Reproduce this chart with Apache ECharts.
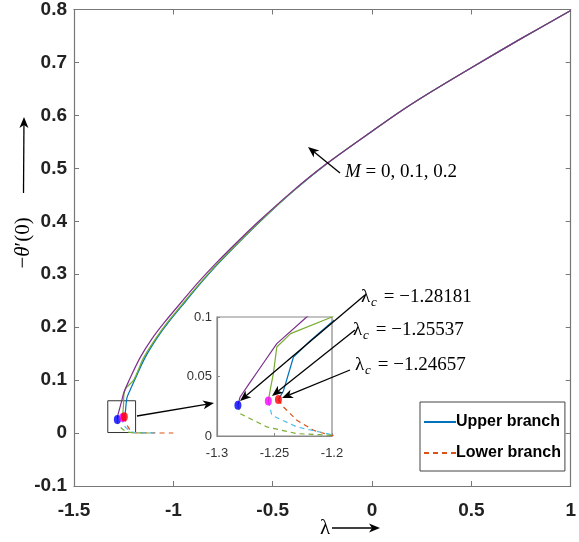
<!DOCTYPE html>
<html>
<head>
<meta charset="utf-8">
<script src="https://cdn.jsdelivr.net/npm/echarts@6/dist/echarts.min.js"></script>
<style>
  html, body { margin: 0; padding: 0; background: #fff; }
  #chart { width: 579px; height: 542px; }
</style>
</head>
<body>
<div id="chart"></div>
<script>
// upper branch, M = 0 (blue)
const lamUpM0 = [-1.24657, -1.2422, -1.2335, -1.2189, -1.2, -1.143, -1.085, -1.025, -0.940, -0.860, -0.779, -0.697, -0.562, -0.396, -0.229, 0, 0.137, 0.3, 0.5, 0.75, 1]
const thUpM0 = [0.0306, 0.038, 0.0664, 0.080, 0.0958, 0.142, 0.178, 0.209, 0.248, 0.284, 0.318, 0.350, 0.400, 0.457, 0.508, 0.570, 0.606, 0.645, 0.690, 0.745, 0.798]
// upper branch, M = 0.1 (green)
const lamUpM1 = [-1.25537, -1.2535, -1.251, -1.248, -1.236, -1.2, -1.150, -1.090, -1.030, -0.945, -0.864, -0.783, -0.700, -0.564, -0.397, -0.230, 0, 0.137, 0.3, 0.5, 0.75, 1]
const thUpM1 = [0.0294, 0.040, 0.0524, 0.0748, 0.086, 0.100, 0.142, 0.178, 0.209, 0.248, 0.284, 0.318, 0.350, 0.400, 0.457, 0.508, 0.570, 0.606, 0.645, 0.690, 0.745, 0.798]
// upper branch, M = 0.2 (purple)
const lamUpM2 = [-1.28181, -1.2799, -1.272, -1.262, -1.248, -1.222, -1.168, -1.108, -1.045, -0.958, -0.876, -0.792, -0.708, -0.570, -0.40, -0.231, 0, 0.137, 0.3, 0.5, 0.75, 1]
const thUpM2 = [0.0258, 0.0328, 0.044, 0.058, 0.0776, 0.100, 0.142, 0.178, 0.209, 0.248, 0.284, 0.318, 0.350, 0.400, 0.457, 0.508, 0.570, 0.606, 0.645, 0.690, 0.745, 0.798]
// lower branches
const lamLoM0 = [-1.24657, -1.2422, -1.2305, -1.216, -1.2015, -1.1, -1.0]
const thLoM0 = [0.0306, 0.0244, 0.0132, 0.0048, 0.0006, 0.0002, 0.0001]
const lamLoM1 = [-1.25537, -1.2523, -1.2305, -1.2015, -1.15, -1.09]
const thLoM1 = [0.0294, 0.0174, 0.0076, 0.0014, 0.0004, 0.0001]
const lamLoM2 = [-1.28181, -1.280, -1.2567, -1.2305, -1.2, -1.15, -1.12]
const thLoM2 = [0.0258, 0.0188, 0.0076, 0.002, 0.0006, 0.0002, 0.0001]
// critical points
const lamCrit = [-1.28181, -1.25537, -1.24657]
const thCrit = [0.0258, 0.0294, 0.0306]
const critColors = ['#0000ff', '#ff00ff', '#ff0000']
const critLabels = ['−1.28181', '−1.25537', '−1.24657']

const tickFont = 'Liberation Sans, Arial, sans-serif'
const serif = 'Liberation Serif, DejaVu Serif, serif'

const zip = (a, b) => a.map((v, i) => [v, b[i]])

const chart = echarts.init(document.getElementById('chart'))

function arrow (x1, y1, x2, y2) {
  const a = Math.atan2(y2 - y1, x2 - x1)
  const L = 11
  const W = 4.5
  const bx = x2 - L * Math.cos(a)
  const by = y2 - L * Math.sin(a)
  const px = -Math.sin(a) * W
  const py = Math.cos(a) * W
  const nx = bx + 3 * Math.cos(a)
  const ny = by + 3 * Math.sin(a)
  return [
    { type: 'line', z: 50, shape: { x1: x1, y1: y1, x2: nx, y2: ny }, style: { stroke: '#000', lineWidth: 1.3 } },
    { type: 'polygon', z: 50, shape: { points: [[x2, y2], [bx + px, by + py], [nx, ny], [bx - px, by - py]] }, style: { fill: '#000' } }
  ]
}

function critText (x, y, val) {
  return [
    { type: 'text', z: 50, x: x, y: y, style: { text: 'λ', font: '19px ' + serif, fill: '#000', verticalAlign: 'middle' } },
    { type: 'text', z: 50, x: x + 10, y: y + 6, style: { text: 'c', font: 'italic 13px ' + serif, fill: '#000', verticalAlign: 'middle' } },
    { type: 'text', z: 50, x: x + 18, y: y, style: { text: ' = ' + val, font: '19px ' + serif, fill: '#000', verticalAlign: 'middle' } }
  ]
}

const axisLine = { show: true, onZero: false, lineStyle: { color: '#777', width: 1.2 } }
const insetLine = { show: true, onZero: false, lineStyle: { color: '#888', width: 1.2 } }

function lineSeries (name, lam, th, color, dashed, idx) {
  return {
    name: name,
    type: 'line',
    xAxisIndex: idx,
    yAxisIndex: idx,
    data: zip(lam, th),
    showSymbol: false,
    symbol: 'none',
    smooth: idx === 0 ? 0.3 : false,
    lineStyle: { color: color, width: 1.2, type: dashed ? [5, 4] : 'solid' },
    itemStyle: { color: color },
    z: idx === 0 ? 3 : 13
  }
}

const series = []
;[0, 1].forEach(g => {
  const s = g === 0 ? '' : ' inset'
  series.push(lineSeries('Upper branch' + s, lamUpM0, thUpM0, '#0072BD', false, g))
  series.push(lineSeries('Lower branch' + s, lamLoM0, thLoM0, '#D95319', true, g))
  series.push(lineSeries('up M0.1' + s, lamUpM1, thUpM1, '#77AC30', false, g))
  series.push(lineSeries('lo M0.1' + s, lamLoM1, thLoM1, '#4DBEEE', true, g))
  series.push(lineSeries('up M0.2' + s, lamUpM2, thUpM2, '#7E2F8E', false, g))
  series.push(lineSeries('lo M0.2' + s, lamLoM2, thLoM2, '#77AC30', true, g))
  series.push({
    name: 'crit' + s,
    type: 'scatter',
    xAxisIndex: g,
    yAxisIndex: g,
    data: lamCrit.map((v, i) => ({ value: [v, thCrit[i]], itemStyle: { color: critColors[i] } })),
    symbol: 'circle',
    symbolSize: [7, 9],
    z: g === 0 ? 5 : 15
  })
})
// zoom box in the main plot
series[0].markArea = {
  silent: true,
  itemStyle: { color: 'rgba(0,0,0,0)', borderColor: '#333', borderWidth: 1 },
  data: [[{ coord: [-1.33, 0.001] }, { coord: [-1.19, 0.061] }]]
}

const graphics = []
  .concat(arrow(137, 416, 214, 403))
  .concat(arrow(365, 295, 240, 401))
  .concat(arrow(355, 330, 272, 396))
  .concat(arrow(350, 370, 282, 398))
  .concat(arrow(340, 173, 308, 147))
  .concat(arrow(23.5, 193, 24, 117))
  .concat(arrow(332, 528, 380, 528))
  .concat(critText(361, 297, critLabels[0]))
  .concat(critText(353, 330, critLabels[1]))
  .concat(critText(355, 365, critLabels[2]))
graphics.push({
  type: 'text', z: 50, x: 345, y: 172,
  style: { text: '{i|M} = 0, 0.1, 0.2', font: '19px ' + serif, fill: '#000', verticalAlign: 'middle', rich: { i: { fontStyle: 'italic', fontFamily: serif, fontSize: 19 } } }
})
graphics.push({
  type: 'text', z: 50, x: 325, y: 528,
  style: { text: 'λ', font: '21px ' + serif, fill: '#000', align: 'center', verticalAlign: 'middle' }
})
graphics.push({
  type: 'text', z: 50, x: 23, y: 243, rotation: Math.PI / 2,
  style: { text: '−{i|θ}′(0)', font: '21px ' + serif, fill: '#000', align: 'center', verticalAlign: 'middle', rich: { i: { fontStyle: 'italic', fontFamily: serif, fontSize: 21 } } }
})

const mainTick = { show: true, inside: true, length: 5, lineStyle: { color: '#777' } }
const mainLabel = { fontFamily: tickFont, fontWeight: 'bold', fontSize: 19, color: '#222' }

const option = {
  backgroundColor: '#fff',
  animation: false,
  grid: [
    { left: 74, top: 6, width: 498, height: 480 },
    { left: 217, top: 317, width: 115, height: 119, show: true, backgroundColor: '#fff', borderColor: '#888', borderWidth: 1.2, z: 10 }
  ],
  xAxis: [
    {
      gridIndex: 0, type: 'value', min: -1.5, max: 1, interval: 0.5,
      axisLine: axisLine, splitLine: { show: false }, axisTick: mainTick,
      axisLabel: Object.assign({ margin: 15 }, mainLabel)
    },
    {
      gridIndex: 1, type: 'value', min: -1.3, max: -1.2, interval: 0.05, z: 12,
      axisLine: insetLine, splitLine: { show: false },
      axisTick: { show: true, inside: true, length: 3, lineStyle: { color: '#888' } },
      axisLabel: { margin: 11, fontFamily: tickFont, fontSize: 13, color: '#333' }
    },
    {
      gridIndex: 0, type: 'value', min: -1.5, max: 1, interval: 0.5, position: 'top',
      axisLine: axisLine, splitLine: { show: false }, axisTick: mainTick,
      axisLabel: { show: false }
    }
  ],
  yAxis: [
    {
      gridIndex: 0, type: 'value', min: -0.1, max: 0.8, interval: 0.1,
      axisLine: axisLine, splitLine: { show: false }, axisTick: mainTick,
      axisLabel: Object.assign({ margin: 7 }, mainLabel)
    },
    {
      gridIndex: 1, type: 'value', min: 0, max: 0.1, interval: 0.05, z: 12,
      axisLine: insetLine, splitLine: { show: false },
      axisTick: { show: true, inside: true, length: 3, lineStyle: { color: '#888' } },
      axisLabel: { margin: 5, fontFamily: tickFont, fontSize: 13, color: '#333' }
    },
    {
      gridIndex: 0, type: 'value', min: -0.1, max: 0.8, interval: 0.1, position: 'right',
      axisLine: axisLine, splitLine: { show: false }, axisTick: mainTick,
      axisLabel: { show: false }
    }
  ],
  legend: {
    data: ['Upper branch', 'Lower branch'],
    orient: 'vertical',
    left: 420,
    top: 402,
    padding: [12, 4, 10, 3],
    itemGap: 15,
    itemWidth: 32,
    itemHeight: 16,
    backgroundColor: '#fff',
    borderColor: '#444',
    borderWidth: 1,
    z: 20,
    itemStyle: { opacity: 0 },
    textStyle: { fontFamily: tickFont, fontWeight: 'bold', fontSize: 16, color: '#000', padding: [0, 0, 0, -5] }
  },
  graphic: graphics,
  series: series
}
chart.setOption(option)
</script>
</body>
</html>
